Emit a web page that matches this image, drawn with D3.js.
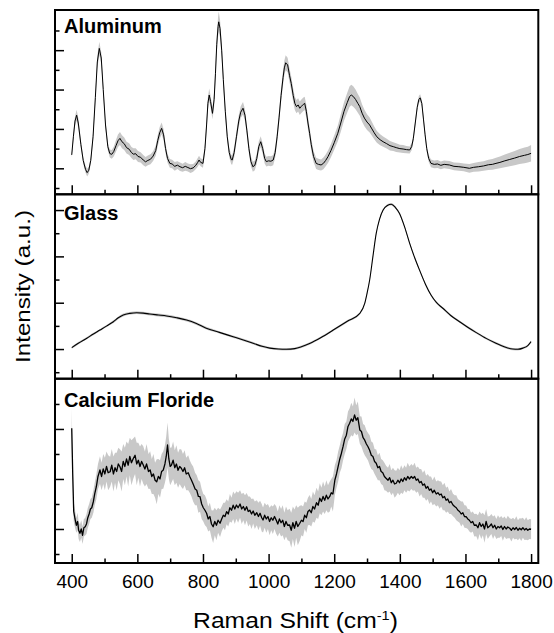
<!DOCTYPE html>
<html><head><meta charset="utf-8">
<script src="https://cdn.jsdelivr.net/npm/d3@7"></script>
<style>
html,body{margin:0;padding:0;background:#fff;}
svg{display:block;}
text{font-family:"Liberation Sans",Arial,sans-serif;fill:#000;}
</style></head>
<body>
<svg id="chart" width="554" height="633"></svg>
<script>
// ---------------- DATA ----------------
const xMajorTicks = [400, 600, 800, 1000, 1200, 1400, 1600, 1800];
const xMinorTicks = [500, 700, 900, 1100, 1300, 1500, 1700];
const panelNames = ["Aluminum", "Glass", "Calcium Floride"];
const aluYMajor = [1, 3, 5, 7], aluYMinor = [0, 2, 4, 6, 8];
const glassYMajor = [1, 3, 5, 7], glassYMinor = [0, 2, 4, 6];
const cafYMajor = [1, 3, 5], cafYMinor = [0, 2, 4, 6];

// [Raman shift, mean intensity, spread] (arbitrary units)
const aluminum = [
[400,1.68,0.15],[405,2.6,0.2],[410,3.4,0.25],[415,3.7,0.28],[420,3.3,0.25],[428,2.2,0.2],[435,1.4,0.18],
[442,0.95,0.18],[447,0.78,0.2],[452,0.9,0.18],[458,1.4,0.18],[465,2.6,0.22],[472,4.6,0.28],[478,6.4,0.32],
[484,7.09,0.34],[490,6.6,0.3],[496,5.0,0.25],[503,3.2,0.22],[510,2.1,0.2],[516,1.75,0.2],[522,1.71,0.22],
[528,1.85,0.25],[535,2.15,0.3],[541,2.4,0.32],[547,2.52,0.33],[553,2.35,0.33],[560,2.25,0.32],[567,2.05,0.3],
[575,1.97,0.3],[582,1.8,0.28],[588,1.72,0.3],[595,1.74,0.28],[602,1.6,0.28],[610,1.56,0.26],[618,1.42,0.26],
[625,1.33,0.25],[632,1.4,0.25],[640,1.46,0.25],[648,1.62,0.25],[656,1.9,0.26],[662,2.4,0.28],[668,2.8,0.3],
[674,3.03,0.3],[680,2.7,0.28],[686,2.0,0.25],[692,1.5,0.22],[699,1.25,0.22],[706,1.22,0.22],[714,1.1,0.22],
[722,1.16,0.2],[730,1.08,0.22],[738,1.03,0.2],[746,1.1,0.22],[754,1.04,0.2],[762,0.98,0.22],[770,1.02,0.2],
[778,1.15,0.2],[784,1.3,0.22],[788,1.42,0.22],[793,1.3,0.2],[800,1.25,0.22],[806,2.0,0.25],[811,3.2,0.3],
[815,4.3,0.32],[819,4.72,0.33],[823,4.4,0.3],[829,3.79,0.3],[834,4.5,0.35],[838,5.8,0.4],[842,7.3,0.45],
[846,8.2,0.5],[848,8.44,0.52],[852,8.1,0.45],[857,7.0,0.4],[862,5.5,0.35],[868,3.9,0.3],[874,2.6,0.26],
[880,1.8,0.24],[886,1.45,0.24],[889,1.42,0.24],[895,1.8,0.26],[902,2.6,0.28],[909,3.4,0.3],[915,3.85,0.3],
[922,4.05,0.32],[928,3.7,0.3],[934,2.9,0.28],[940,2.0,0.26],[946,1.35,0.25],[952,1.08,0.25],[958,1.15,0.25],
[964,1.5,0.25],[970,2.1,0.26],[976,2.35,0.28],[982,2.0,0.26],[988,1.5,0.25],[993,1.34,0.25],[1000,1.38,0.25],
[1007,1.36,0.25],[1014,1.42,0.26],[1020,1.8,0.27],[1026,2.6,0.3],[1032,3.6,0.32],[1038,4.7,0.35],[1044,5.6,0.37],
[1048,6.1,0.38],[1052,6.36,0.38],[1058,6.25,0.37],[1064,5.7,0.36],[1069,5.31,0.35],[1075,4.7,0.35],[1080,4.3,0.34],
[1085,4.13,0.34],[1090,4.22,0.34],[1095,4.05,0.34],[1100,4.15,0.34],[1106,4.25,0.34],[1110,4.3,0.34],[1115,3.9,0.33],
[1120,3.3,0.32],[1125,2.78,0.3],[1130,2.2,0.3],[1137,1.6,0.28],[1145,1.25,0.28],[1152,1.2,0.28],[1160,1.17,0.28],
[1167,1.25,0.3],[1174,1.4,0.3],[1181,1.59,0.32],[1190,1.9,0.34],[1200,2.3,0.36],[1211,2.78,0.4],[1220,3.3,0.44],
[1230,3.9,0.47],[1240,4.35,0.5],[1247,4.65,0.52],[1252,4.72,0.52],[1258,4.65,0.52],[1265,4.5,0.5],[1272,4.3,0.48],
[1278,4.13,0.46],[1285,3.8,0.44],[1292,3.55,0.42],[1300,3.35,0.4],[1308,3.2,0.38],[1315,3.0,0.35],[1322,2.8,0.32],
[1330,2.6,0.3],[1340,2.45,0.28],[1349,2.35,0.26],[1360,2.25,0.25],[1370,2.15,0.24],[1380,2.1,0.22],[1389,2.05,0.22],
[1400,2.0,0.2],[1410,1.98,0.2],[1420,1.95,0.18],[1430,1.93,0.18],[1436,2.1,0.18],[1441,2.5,0.18],[1447,3.3,0.18],
[1453,4.1,0.18],[1458,4.5,0.18],[1462,4.58,0.18],[1467,4.3,0.18],[1472,3.5,0.18],[1477,2.7,0.18],[1482,2.0,0.18],
[1488,1.5,0.18],[1495,1.25,0.2],[1505,1.2,0.2],[1515,1.22,0.2],[1525,1.15,0.2],[1535,1.2,0.2],[1551,1.17,0.2],
[1565,1.1,0.2],[1580,1.08,0.2],[1595,1.05,0.2],[1612,1.0,0.22],[1625,1.05,0.22],[1640,1.08,0.24],[1655,1.12,0.24],
[1670,1.18,0.26],[1682,1.2,0.27],[1693,1.25,0.28],[1705,1.3,0.3],[1720,1.38,0.32],[1735,1.45,0.34],[1750,1.52,0.36],
[1765,1.6,0.38],[1780,1.66,0.4],[1790,1.7,0.4],[1800,1.76,0.42]
];

const glass = [
[400,1.06,0.05],[420,1.25,0.05],[446,1.47,0.05],[466,1.65,0.05],[486,1.82,0.05],[507,2.0,0.05],[527,2.18,0.06],
[542,2.35,0.06],[557,2.47,0.06],[577,2.54,0.06],[598,2.57,0.06],[618,2.55,0.06],[638,2.51,0.06],[664,2.47,0.06],
[689,2.43,0.06],[720,2.35,0.06],[750,2.25,0.06],[780,2.1,0.06],[810,1.9,0.06],[850,1.72,0.05],[892,1.53,0.05],
[923,1.39,0.05],[953,1.25,0.05],[980,1.12,0.05],[1004,1.04,0.05],[1030,1.0,0.05],[1054,0.99,0.05],[1080,1.02,0.05],
[1100,1.1,0.05],[1125,1.24,0.05],[1160,1.5,0.05],[1197,1.82,0.05],[1240,2.2,0.05],[1278,2.54,0.05],[1293,2.97,0.05],
[1300,3.4,0.05],[1308,3.98,0.05],[1318,5.0,0.05],[1328,5.99,0.05],[1338,6.6,0.05],[1349,7.0,0.05],[1362,7.2,0.05],
[1374,7.25,0.05],[1386,7.12,0.05],[1399,6.85,0.05],[1415,6.25,0.05],[1430,5.56,0.05],[1445,4.95,0.05],[1460,4.41,0.05],
[1478,3.8,0.05],[1495,3.33,0.05],[1512,3.0,0.05],[1531,2.76,0.05],[1555,2.45,0.05],[1582,2.18,0.05],[1608,1.93,0.05],
[1633,1.71,0.05],[1663,1.46,0.05],[1693,1.25,0.05],[1718,1.1,0.05],[1744,1.0,0.05],[1760,0.99,0.05],[1775,1.04,0.05],
[1790,1.15,0.05],[1800,1.32,0.05]
];

const calciumFluoride = [
[400,5.03,0.8],[403,3.2,0.5],[406,1.7,0.4],[410,1.4,0.35],[414,1.15,0.3],[418,1.3,0.35],[421,0.95,0.35],
[425,0.83,0.35],[429,1.0,0.35],[433,0.75,0.35],[437,1.05,0.35],[441,1.09,0.35],[445,1.2,0.4],[449,1.45,0.4],
[453,1.6,0.4],[457,1.8,0.4],[461,1.85,0.4],[466,2.1,0.45],[470,2.4,0.45],[475,2.69,0.5],[480,3.1,0.5],
[486,3.36,0.55],[491,3.1,0.55],[496,3.4,0.6],[501,3.2,0.65],[506,3.5,0.6],[511,3.25,0.7],[517,3.29,0.6],
[522,3.55,0.65],[527,3.2,0.7],[532,3.45,0.6],[537,3.3,0.75],[542,3.6,0.65],[547,3.49,0.7],[552,3.3,0.8],
[557,3.7,0.7],[562,3.5,0.75],[567,3.8,0.7],[572,3.55,0.85],[577,3.9,0.75],[582,3.65,0.9],[588,3.83,0.8],
[593,3.95,0.75],[598,3.6,0.85],[603,3.75,0.7],[608,3.5,0.8],[613,3.7,0.7],[618,3.56,0.75],[623,3.4,0.7],
[628,3.6,0.8],[634,3.3,0.7],[639,3.36,0.75],[644,3.1,0.7],[649,3.2,0.8],[654,2.95,0.7],[659,2.89,0.9],
[664,3.1,0.7],[669,3.0,0.75],[674,3.3,0.7],[679,3.36,0.75],[684,3.6,0.75],[688,3.9,0.8],[692,4.36,0.9],
[696,3.8,0.8],[700,3.5,0.75],[704,3.56,0.7],[709,3.75,0.75],[714,3.45,0.7],[719,3.6,0.75],[724,3.35,0.7],
[729,3.5,0.7],[734,3.43,0.75],[739,3.3,0.7],[744,3.45,0.7],[749,3.2,0.65],[755,3.25,0.7],[760,3.09,0.65],
[765,2.95,0.65],[770,2.8,0.7],[776,2.6,0.65],[781,2.55,0.6],[786,2.3,0.65],[791,2.29,0.6],[796,2.0,0.6],
[801,1.85,0.55],[806,1.75,0.6],[811,1.63,0.55],[816,1.4,0.5],[821,1.5,0.55],[826,1.2,0.55],[831,1.09,0.65],
[836,1.3,0.55],[841,1.15,0.6],[846,1.35,0.5],[852,1.23,0.55],[857,1.4,0.5],[862,1.55,0.5],[867,1.5,0.55],
[872,1.69,0.5],[877,1.6,0.5],[882,1.85,0.55],[887,1.75,0.5],[892,1.95,0.55],[897,1.8,0.6],[902,1.96,0.55],
[907,1.85,0.6],[913,2.0,0.55],[918,1.8,0.6],[923,1.9,0.55],[928,1.75,0.6],[933,1.89,0.55],[938,1.7,0.6],
[943,1.75,0.55],[948,1.6,0.6],[953,1.72,0.5],[958,1.55,0.55],[964,1.65,0.5],[969,1.5,0.55],[974,1.63,0.5],
[979,1.45,0.55],[983,1.36,0.5],[988,1.55,0.5],[993,1.4,0.55],[998,1.5,0.5],[1003,1.3,0.55],[1008,1.45,0.5],
[1013,1.35,0.55],[1018,1.5,0.5],[1023,1.36,0.55],[1028,1.2,0.5],[1033,1.4,0.55],[1038,1.25,0.55],[1043,1.35,0.6],
[1048,1.1,0.55],[1053,1.3,0.6],[1058,1.15,0.6],[1064,1.16,0.65],[1069,0.95,0.7],[1074,1.25,0.65],[1079,1.03,0.75],
[1084,1.3,0.65],[1089,1.1,0.75],[1095,1.23,0.7],[1100,1.35,0.6],[1105,1.3,0.6],[1110,1.55,0.55],[1115,1.45,0.6],
[1120,1.7,0.55],[1125,1.76,0.6],[1130,1.65,0.55],[1135,1.9,0.6],[1140,1.8,0.55],[1146,2.05,0.6],[1151,1.95,0.55],
[1156,2.23,0.6],[1161,2.1,0.55],[1166,2.3,0.6],[1171,2.15,0.55],[1176,2.35,0.6],[1181,2.2,0.55],[1186,2.29,0.6],
[1191,2.45,0.55],[1196,2.4,0.7],[1202,2.96,0.6],[1207,3.2,0.55],[1212,3.5,0.6],[1217,3.8,0.55],[1222,4.03,0.6],
[1227,4.3,0.55],[1232,4.6,0.6],[1237,4.75,0.55],[1242,5.1,0.6],[1247,5.23,0.6],[1252,5.4,0.65],[1257,5.3,0.6],
[1262,5.56,0.7],[1267,5.35,0.6],[1272,5.45,0.65],[1278,4.96,0.55],[1283,4.9,0.6],[1288,4.65,0.55],[1293,4.55,0.6],
[1298,4.4,0.55],[1303,4.29,0.55],[1308,4.15,0.6],[1313,3.95,0.55],[1318,3.9,0.55],[1323,3.7,0.5],[1328,3.63,0.55],
[1333,3.45,0.5],[1338,3.5,0.55],[1343,3.3,0.5],[1348,3.25,0.5],[1353,3.1,0.55],[1358,3.03,0.5],[1364,2.95,0.5],
[1369,3.05,0.55],[1374,2.85,0.5],[1379,2.95,0.5],[1384,2.8,0.55],[1389,2.83,0.5],[1394,2.95,0.5],[1399,2.85,0.5],
[1404,3.0,0.55],[1409,2.9,0.5],[1414,3.05,0.5],[1419,2.95,0.5],[1424,3.1,0.55],[1429,3.0,0.5],[1435,3.1,0.5],
[1440,3.03,0.5],[1445,3.1,0.55],[1450,2.95,0.5],[1455,3.0,0.5],[1460,2.85,0.55],[1465,2.9,0.5],[1470,2.75,0.5],
[1475,2.8,0.55],[1480,2.63,0.5],[1485,2.7,0.5],[1490,2.55,0.55],[1495,2.6,0.5],[1500,2.45,0.5],[1505,2.55,0.55],
[1511,2.4,0.5],[1516,2.45,0.5],[1521,2.36,0.55],[1526,2.4,0.5],[1531,2.25,0.5],[1536,2.3,0.55],[1541,2.15,0.5],
[1546,2.2,0.5],[1551,2.05,0.45],[1556,2.1,0.5],[1562,1.96,0.45],[1567,1.9,0.45],[1572,1.85,0.5],[1577,1.75,0.45],
[1582,1.7,0.45],[1587,1.6,0.5],[1592,1.65,0.45],[1597,1.5,0.45],[1602,1.49,0.45],[1607,1.4,0.4],[1612,1.35,0.45],
[1617,1.25,0.4],[1622,1.3,0.4],[1627,1.15,0.45],[1633,1.16,0.45],[1638,1.05,0.5],[1643,1.25,0.45],[1648,1.1,0.5],
[1653,1.2,0.45],[1658,1.0,0.55],[1663,1.3,0.5],[1668,1.05,0.45],[1674,1.12,0.4],[1679,1.2,0.4],[1684,1.05,0.45],
[1689,1.15,0.4],[1694,1.0,0.4],[1699,1.1,0.45],[1704,1.05,0.4],[1709,1.12,0.4],[1714,0.98,0.45],[1719,1.1,0.4],
[1724,1.0,0.4],[1729,1.08,0.45],[1735,1.03,0.4],[1740,0.95,0.45],[1745,1.05,0.4],[1750,0.98,0.4],[1755,1.06,0.45],
[1760,0.95,0.4],[1765,1.03,0.4],[1770,0.97,0.45],[1775,1.05,0.4],[1780,0.96,0.4],[1785,1.02,0.45],[1790,0.95,0.4],
[1795,1.0,0.4],[1800,0.99,0.4]
];

// ---------------- LAYOUT ----------------
const svg = d3.select("#chart");
const left = 55, right = 538.3;
const x = d3.scaleLinear().domain([349, 1822]).range([left, right]);

const panels = [
  {name: panelNames[0], data: aluminum, top: 10, bottom: 194.3, dom: [-0.32, 9.04], yMaj: aluYMajor, yMin: aluYMinor, labelY: 33, curve: d3.curveLinear, sw: 1.0},
  {name: panelNames[1], data: glass, top: 194.3, bottom: 378.7, dom: [-0.28, 7.68], yMaj: glassYMajor, yMin: glassYMinor, labelY: 219.5, curve: d3.curveMonotoneX, sw: 1.1},
  {name: panelNames[2], data: calciumFluoride, top: 378.7, bottom: 563, dom: [-0.36, 7.01], yMaj: cafYMajor, yMin: cafYMinor, labelY: 406.5, curve: d3.curveLinear, sw: 1.3}
];

const defs = svg.append("defs");

panels.forEach((p, i) => {
  const y = d3.scaleLinear().domain(p.dom).range([p.bottom, p.top]);
  const g = svg.append("g");
  const clipId = "clip" + i;
  defs.append("clipPath").attr("id", clipId).append("rect")
    .attr("x", left).attr("y", p.top).attr("width", right - left).attr("height", p.bottom - p.top);

  const plot = g.append("g").attr("clip-path", `url(#${clipId})`);
  const area = d3.area().x(d => x(d[0])).y0(d => y(d[1] - d[2])).y1(d => y(d[1] + d[2])).curve(p.curve);
  const line = d3.line().x(d => x(d[0])).y(d => y(d[1])).curve(p.curve);
  plot.append("path").datum(p.data).attr("d", area).attr("fill", "#c8c8c8").attr("stroke", "none");
  plot.append("path").datum(p.data).attr("d", line).attr("fill", "none").attr("stroke", "#000")
    .attr("stroke-width", p.sw).attr("stroke-linejoin", "round");

  // x ticks (inward, at bottom of each panel)
  const xMaj = d3.axisBottom(x).tickValues(xMajorTicks).tickSize(-9).tickFormat("");
  const xMin = d3.axisBottom(x).tickValues(xMinorTicks).tickSize(-4.5).tickFormat("");
  [xMaj, xMin].forEach(ax => {
    const a = g.append("g").attr("transform", `translate(0,${p.bottom})`).call(ax);
    a.select(".domain").remove();
    a.selectAll("line").attr("stroke", "#000").attr("stroke-width", 1.5);
  });
  // y ticks (inward, left)
  const yMaj = d3.axisLeft(y).tickValues(p.yMaj).tickSize(-9).tickFormat("");
  const yMin = d3.axisLeft(y).tickValues(p.yMin).tickSize(-4.5).tickFormat("");
  [yMaj, yMin].forEach(ax => {
    const a = g.append("g").attr("transform", `translate(${left},0)`).call(ax);
    a.select(".domain").remove();
    a.selectAll("line").attr("stroke", "#000").attr("stroke-width", 1.5);
  });

  // frame
  g.append("rect").attr("x", left).attr("y", p.top).attr("width", right - left).attr("height", p.bottom - p.top)
    .attr("fill", "none").attr("stroke", "#000").attr("stroke-width", 2);

  // panel label
  g.append("text").attr("x", 64).attr("y", p.labelY).attr("font-size", "20px").attr("font-weight", "bold")
    .text(p.name);

  // tick labels on bottom panel
  if (i === panels.length - 1) {
    const lab = d3.axisBottom(x).tickValues(xMajorTicks).tickSize(0).tickPadding(0).tickFormat(d3.format("d"));
    const a = g.append("g").attr("transform", `translate(0,${p.bottom})`).call(lab);
    a.select(".domain").remove();
    a.selectAll("text").attr("font-size", "19px").attr("font-family", '"Liberation Sans",Arial,sans-serif')
      .attr("dy", null).attr("y", 25).attr("fill", "#000");
  }
});

// axis titles
const xt = svg.append("text").attr("text-anchor", "middle").attr("font-size", "22px");
xt.append("tspan").text("Raman Shift (cm");
xt.append("tspan").attr("font-size", "13px").attr("dy", "-8").text("-1");
xt.append("tspan").attr("dy", "8").text(")");
const xw = xt.node().getBBox().width;
xt.attr("transform", `translate(295.5,628) scale(${205 / xw},1)`);

const yt = svg.append("text").attr("text-anchor", "middle").attr("font-size", "21px").text("Intensity (a.u.)");
const yw = yt.node().getBBox().width;
yt.attr("transform", `translate(30,286.5) rotate(-90) scale(${153 / yw},1)`);
</script>
</body></html>
